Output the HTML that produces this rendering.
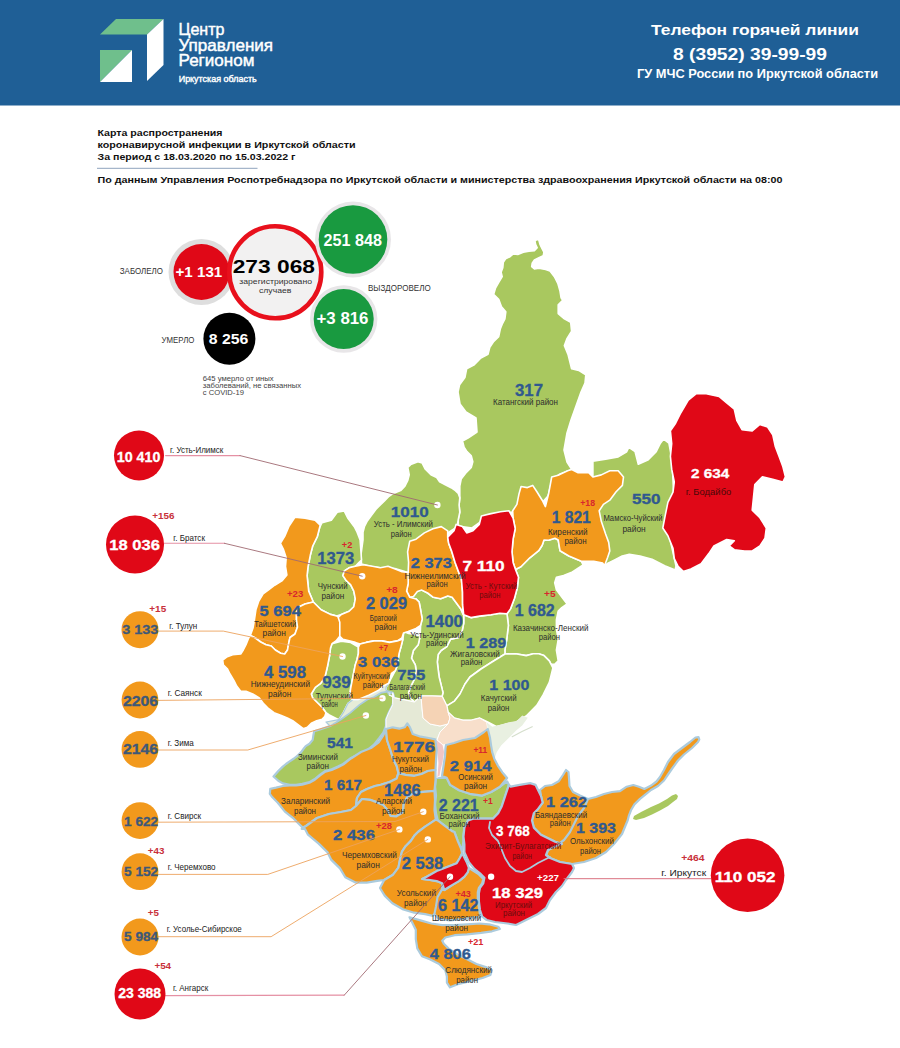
<!DOCTYPE html>
<html><head><meta charset="utf-8"><title>Карта распространения коронавирусной инфекции</title>
<style>
html,body{margin:0;padding:0;background:#fff;}
body{width:900px;height:1048px;overflow:hidden;font-family:"Liberation Sans", sans-serif;}
svg{display:block;}
svg text{font-family:"Liberation Sans", sans-serif;}
</style></head>
<body>
<svg width="900" height="1048" viewBox="0 0 900 1048">
<rect x="0" y="0" width="900" height="105.5" fill="#1f5f96"/>
<polygon points="116.0,19.0 163.5,19.0 147.0,34.5 100.0,34.5" fill="#6fbf8c" stroke="none" stroke-width="0" stroke-linejoin="round"/>
<polygon points="147.0,34.5 163.5,19.0 163.5,65.0 147.0,81.0" fill="#fff" stroke="none" stroke-width="0" stroke-linejoin="round"/>
<polygon points="100.0,50.0 132.0,50.0 100.0,82.0" fill="#6fbf8c" stroke="none" stroke-width="0" stroke-linejoin="round"/>
<polygon points="132.0,50.0 132.0,82.0 100.0,82.0" fill="#fff" stroke="none" stroke-width="0" stroke-linejoin="round"/>
<text x="178.5" y="35.3" font-size="17" fill="#fff" font-weight="normal" text-anchor="start" textLength="46" lengthAdjust="spacingAndGlyphs" stroke="#fff" stroke-width="0.45">Центр</text>
<text x="178.5" y="50.7" font-size="17" fill="#fff" font-weight="normal" text-anchor="start" textLength="94.6" lengthAdjust="spacingAndGlyphs" stroke="#fff" stroke-width="0.45">Управления</text>
<text x="178.5" y="66" font-size="17" fill="#fff" font-weight="normal" text-anchor="start" textLength="76" lengthAdjust="spacingAndGlyphs" stroke="#fff" stroke-width="0.45">Регионом</text>
<text x="178.7" y="82" font-size="9.3" fill="#fff" font-weight="normal" text-anchor="start" textLength="78" lengthAdjust="spacingAndGlyphs" stroke="#fff" stroke-width="0.4">Иркутская область</text>
<text x="651" y="34.9" font-size="15" fill="#fff" font-weight="bold" text-anchor="start" textLength="208" lengthAdjust="spacingAndGlyphs">Телефон горячей линии</text>
<text x="673" y="59.8" font-size="17" fill="#fff" font-weight="bold" text-anchor="start" textLength="154" lengthAdjust="spacingAndGlyphs">8 (3952) 39-99-99</text>
<text x="637" y="77.8" font-size="12.3" fill="#fff" font-weight="bold" text-anchor="start" textLength="241" lengthAdjust="spacingAndGlyphs">ГУ МЧС России по Иркутской области</text>
<text x="97.5" y="136.3" font-size="9.6" fill="#111" font-weight="bold" text-anchor="start" textLength="125" lengthAdjust="spacingAndGlyphs">Карта распространения</text>
<text x="97.5" y="148" font-size="9.6" fill="#111" font-weight="bold" text-anchor="start" textLength="258" lengthAdjust="spacingAndGlyphs">коронавирусной инфекции в Иркутской области</text>
<text x="97.5" y="160" font-size="9.6" fill="#111" font-weight="bold" text-anchor="start" textLength="198" lengthAdjust="spacingAndGlyphs">За период с 18.03.2020 по 15.03.2022 г</text>
<line x1="97" y1="168.3" x2="257.5" y2="168.3" stroke="#8fa3bd" stroke-width="1"/>
<text x="97.5" y="183" font-size="9.6" fill="#111" font-weight="bold" text-anchor="start" textLength="685" lengthAdjust="spacingAndGlyphs">По данным Управления Роспотребнадзора по Иркутской области и министерства здравоохранения Иркутской области на 08:00</text>
<circle cx="201.5" cy="272" r="33" fill="#dedede" stroke="none" stroke-width="0"/>
<circle cx="201.5" cy="272" r="28" fill="#e00817" stroke="none" stroke-width="0"/>
<circle cx="275.3" cy="272.3" r="46" fill="#f2f1f1" stroke="#e8101c" stroke-width="4.6"/>
<circle cx="353" cy="239.5" r="38" fill="#e8e6e8" stroke="none" stroke-width="0"/>
<circle cx="353" cy="239.5" r="34.3" fill="#199a40" stroke="none" stroke-width="0"/>
<circle cx="343.7" cy="319" r="33.7" fill="#e8e6e8" stroke="none" stroke-width="0"/>
<circle cx="343.7" cy="319" r="30" fill="#199a40" stroke="none" stroke-width="0"/>
<circle cx="229.4" cy="338.7" r="26" fill="#000" stroke="none" stroke-width="0"/>
<text x="175.5" y="276.7" font-size="14" fill="#fff" font-weight="bold" text-anchor="start" textLength="46.8" lengthAdjust="spacingAndGlyphs">+1 131</text>
<text x="232.7" y="272.5" font-size="18" fill="#000" font-weight="bold" text-anchor="start" textLength="82.3" lengthAdjust="spacingAndGlyphs">273 068</text>
<text x="239.3" y="283.8" font-size="8" fill="#333" font-weight="normal" text-anchor="start" textLength="72.7" lengthAdjust="spacingAndGlyphs">зарегистрировано</text>
<text x="259" y="292.7" font-size="8" fill="#333" font-weight="normal" text-anchor="start" textLength="32.3" lengthAdjust="spacingAndGlyphs">случаев</text>
<text x="323.6" y="246.2" font-size="16.5" fill="#fff" font-weight="bold" text-anchor="start" textLength="58.3" lengthAdjust="spacingAndGlyphs">251 848</text>
<text x="316.5" y="324.1" font-size="16.5" fill="#fff" font-weight="bold" text-anchor="start" textLength="52" lengthAdjust="spacingAndGlyphs">+3 816</text>
<text x="208.7" y="343.9" font-size="15" fill="#fff" font-weight="bold" text-anchor="start" textLength="39.6" lengthAdjust="spacingAndGlyphs">8 256</text>
<text x="119.8" y="274" font-size="8.4" fill="#333" font-weight="normal" text-anchor="start" textLength="43.2" lengthAdjust="spacingAndGlyphs">ЗАБОЛЕЛО</text>
<text x="368" y="291" font-size="8.4" fill="#333" font-weight="normal" text-anchor="start" textLength="62.7" lengthAdjust="spacingAndGlyphs">ВЫЗДОРОВЕЛО</text>
<text x="161.6" y="342.8" font-size="8.4" fill="#333" font-weight="normal" text-anchor="start" textLength="32.8" lengthAdjust="spacingAndGlyphs">УМЕРЛО</text>
<text x="202.8" y="380.7" font-size="7.3" fill="#444" font-weight="normal" text-anchor="start" textLength="70.9" lengthAdjust="spacingAndGlyphs">645 умерло от иных</text>
<text x="202.8" y="388.3" font-size="7.3" fill="#444" font-weight="normal" text-anchor="start" textLength="98.3" lengthAdjust="spacingAndGlyphs">заболеваний, не связанных</text>
<text x="202.8" y="394.9" font-size="7.3" fill="#444" font-weight="normal" text-anchor="start" textLength="41.1" lengthAdjust="spacingAndGlyphs">с COVID-19</text>
<polygon points="536.2,240.0 537.6,239.4 538.9,240.2 540.0,244.4 542.2,248.9 543.9,252.2 543.3,255.6 538.9,257.8 534.4,260.0 532.2,263.3 531.7,266.7 534.4,268.9 538.9,268.3 545.6,269.4 550.0,271.1 554.4,276.7 557.8,283.3 560.0,291.1 561.1,297.8 562.7,300.2 558.2,304.7 558.2,313.6 564.4,318.9 570.7,322.4 571.6,331.3 567.1,338.4 564.4,345.6 568.0,354.4 571.6,368.7 578.7,370.4 585.8,374.9 585.0,383.0 581.0,392.0 576.0,406.0 571.0,420.0 567.0,433.0 564.0,450.0 567.0,462.0 571.8,469.6 560.0,474.0 552.0,480.0 548.0,496.0 540.0,505.0 525.0,505.0 512.0,512.0 500.0,514.0 486.0,518.0 472.0,528.0 458.0,526.0 458.3,519.4 459.8,512.2 459.1,505.0 459.8,497.8 459.8,491.9 459.8,486.2 461.2,479.0 465.6,473.2 471.3,467.4 472.8,461.7 471.3,455.9 467.0,451.6 464.1,447.2 462.5,441.0 468.0,438.0 477.0,432.0 476.0,418.0 466.0,412.0 460.0,404.0 458.0,392.0 459.6,384.7 464.9,377.6 466.7,368.7 473.8,365.1 480.9,358.0 488.0,354.4 489.8,347.3 493.3,342.0 498.7,336.7 500.4,328.7 502.2,324.2 504.9,318.9 505.8,311.8 501.3,306.4 498.7,299.3 493.6,294.4 495.6,287.8 498.9,282.2 502.2,276.7 501.1,272.2 502.8,267.8 503.3,262.2 505.6,258.9 510.0,256.7 513.3,253.9 517.8,254.4 523.3,252.2 528.9,251.1 534.4,250.6 537.2,247.8 535.6,244.4 535.0,241.1" fill="#a9c85f" stroke="#ffffff" stroke-width="1.6" stroke-linejoin="round"/>
<polygon points="592.9,461.2 605.6,459.1 618.2,456.9 626.7,451.7 628.8,447.4 635.1,451.7 638.3,464.3 647.8,460.1 656.2,451.7 660.4,443.2 663.6,439.0 668.9,443.2 672.0,460.0 674.0,500.0 668.0,530.0 676.0,566.0 675.2,569.9 664.7,565.7 652.0,559.3 640.0,556.0 629.3,554.2 622.2,556.0 615.1,559.6 608.0,563.1 604.5,565.7 600.0,540.0 595.0,500.0 592.9,477.0" fill="#a9c85f" stroke="#ffffff" stroke-width="1.6" stroke-linejoin="round"/>
<polygon points="407.8,467.4 410.7,464.6 417.9,461.7 422.2,463.1 425.1,468.9 430.9,474.7 436.7,477.6 439.6,481.9 445.3,484.8 451.1,487.7 455.4,490.6 458.3,493.4 459.8,497.8 459.1,505.0 459.8,512.2 458.3,519.4 457.0,527.0 447.7,533.0 430.0,540.0 412.0,548.0 410.0,566.0 409.0,573.0 403.3,571.0 394.9,568.5 382.2,568.0 371.7,566.5 361.5,564.0 361.1,554.0 363.0,540.0 363.0,532.4 364.4,526.7 367.3,520.9 371.7,515.1 376.0,509.3 380.3,505.0 384.7,500.7 389.0,496.3 393.3,493.4 400.6,490.6 404.9,486.2 407.8,480.4 409.2,474.7" fill="#a9c85f" stroke="#ffffff" stroke-width="1.6" stroke-linejoin="round"/>
<polygon points="322.0,522.7 331.3,520.3 337.2,512.2 344.2,511.0 347.7,518.0 350.0,520.9 354.3,526.7 357.2,532.4 360.1,540.0 361.1,554.0 361.5,560.0 358.4,563.1 355.3,566.2 349.1,567.8 344.4,570.9 342.9,575.6 346.0,580.2 350.7,584.9 353.8,591.1 355.3,598.9 353.8,606.7 349.1,611.3 341.3,614.4 336.7,616.0 330.4,614.4 321.1,609.8 313.3,602.0 308.7,591.1 307.1,575.6 308.0,567.0 310.3,555.3 312.7,546.0 317.3,536.7 319.7,527.3" fill="#a9c85f" stroke="#ffffff" stroke-width="1.6" stroke-linejoin="round"/>
<polygon points="515.5,569.5 520.9,566.7 529.8,557.8 538.7,550.7 542.2,545.3 544.0,540.0 548.6,540.3 554.9,538.2 558.2,540.0 560.0,550.7 568.9,556.0 581.3,561.3 583.1,564.9 572.4,572.0 563.6,575.6 556.4,577.3 554.7,582.7 556.4,589.8 561.8,596.9 567.1,604.0 561.8,607.6 558.2,611.1 556.4,620.0 556.4,628.9 558.2,639.6 556.4,650.2 558.2,660.9 554.7,664.4 551.1,664.4 549.3,660.9 544.0,655.6 538.7,653.8 533.3,653.8 526.2,655.6 515.6,653.8 505.0,654.0 504.9,650.2 506.7,639.6 508.4,625.3 507.0,613.8 510.5,608.9 514.5,598.3 517.3,587.8 518.5,577.2" fill="#a9c85f" stroke="#ffffff" stroke-width="1.6" stroke-linejoin="round"/>
<polygon points="463.7,614.7 470.9,617.6 479.6,616.1 491.1,614.7 499.8,613.2 507.0,613.8 508.4,625.3 506.7,639.6 504.9,650.2 505.0,654.0 492.0,662.0 481.0,669.0 470.0,677.0 465.0,684.0 460.0,694.0 454.5,701.1 446.8,705.9 442.1,696.4 443.0,692.6 441.1,684.9 439.2,677.3 438.2,669.6 437.3,662.0 438.2,654.4 441.1,650.5 446.8,646.7 450.6,639.1 457.9,637.8 462.2,630.6 463.7,623.3" fill="#a9c85f" stroke="#ffffff" stroke-width="1.6" stroke-linejoin="round"/>
<polygon points="410.0,592.0 417.4,589.0 421.8,590.1 427.6,593.0 433.3,597.3 440.6,598.8 447.8,595.9 452.1,597.3 456.4,603.1 460.8,608.9 463.7,614.7 463.7,623.3 462.2,630.6 457.9,637.8 450.6,639.1 446.8,646.7 441.1,650.5 438.2,654.4 437.3,662.0 438.2,669.6 439.2,677.3 441.1,684.9 443.0,692.6 442.1,696.4 432.0,696.0 421.0,696.0 414.4,702.1 410.5,698.3 408.6,692.6 410.5,686.8 414.4,679.2 416.3,671.6 415.3,664.9 411.5,658.2 413.4,650.5 418.2,644.8 420.1,636.2 420.6,625.3 422.2,619.1 420.6,609.8 419.1,602.0 416.0,598.9 410.0,599.0" fill="#a9c85f" stroke="#ffffff" stroke-width="1.6" stroke-linejoin="round"/>
<polygon points="446.8,705.9 454.5,701.1 460.0,694.0 465.0,684.0 470.0,677.0 481.0,669.0 492.0,662.0 505.0,654.0 515.6,653.8 526.2,655.6 533.3,653.8 538.7,653.8 544.0,655.6 549.3,660.9 551.1,664.4 552.9,668.0 549.4,682.2 543.1,694.9 536.8,705.4 526.2,716.0 515.7,722.3 505.1,724.4 496.7,726.6 488.2,722.3 479.8,718.1 471.3,720.2 462.9,720.2 454.4,718.1 448.0,712.0" fill="#a9c85f" stroke="#ffffff" stroke-width="1.6" stroke-linejoin="round"/>
<polygon points="403.9,631.5 408.6,633.4 413.4,634.3 420.1,636.2 418.2,644.8 413.4,650.5 411.5,658.2 415.3,664.9 416.3,671.6 414.4,679.2 410.5,686.8 408.6,692.6 410.5,698.3 414.4,702.1 405.0,700.0 395.0,698.0 389.0,695.0 386.0,690.0 386.0,687.3 388.7,683.3 391.3,678.0 395.3,670.6 397.2,665.8 398.1,660.1 399.1,653.4 401.0,646.7 402.9,639.1" fill="#a9c85f" stroke="#ffffff" stroke-width="1.6" stroke-linejoin="round"/>
<polygon points="332.0,643.7 341.3,641.3 350.7,642.5 358.4,647.1 358.4,653.3 356.9,660.0 355.3,664.7 353.0,676.3 350.7,688.0 349.5,697.3 353.0,699.7 348.0,703.3 343.3,712.7 338.7,719.7 329.3,715.0 326.0,712.7 322.0,707.3 316.7,702.0 312.7,698.0 311.3,694.0 315.3,687.3 320.7,683.3 324.7,678.0 327.3,667.3 329.7,655.0 330.5,648.0" fill="#a9c85f" stroke="#ffffff" stroke-width="1.6" stroke-linejoin="round"/>
<polygon points="330.0,726.0 340.7,719.3 350.0,712.7 359.3,704.7 367.3,699.3 374.0,696.7 380.7,692.7 387.3,691.3 392.7,692.7 394.0,696.7 392.7,704.7 388.7,712.7 386.0,719.3 386.0,726.0 383.3,732.7 379.3,738.0 374.0,744.7 367.3,750.0 359.3,754.0 351.0,758.0 343.2,763.9 337.9,766.6 331.7,769.2 325.4,771.0 320.1,774.6 314.8,779.0 309.4,782.1 302.3,783.9 296.1,784.8 289.9,784.8 282.8,783.4 278.3,780.8 273.5,776.5 278.3,771.0 282.8,766.6 286.0,764.0 289.3,761.7 294.0,758.5 297.9,755.4 301.0,752.3 303.3,749.2 305.7,746.1 309.5,743.8 312.7,739.9 313.4,735.2 314.2,731.3 320.0,729.5" fill="#a9c85f" stroke="#abcbdd" stroke-width="2.2" stroke-linejoin="round"/>
<polygon points="436.0,777.8 446.7,777.8 450.2,784.9 459.1,790.2 469.8,793.8 482.2,795.6 491.1,792.0 500.0,786.7 507.1,781.3 508.9,784.9 505.3,795.6 501.8,806.2 498.2,813.3 492.9,818.7 482.2,818.7 473.3,818.7 468.0,820.4 464.4,827.6 463.5,834.7 463.3,841.8 462.2,850.0 460.0,846.0 457.8,841.1 454.4,832.0 452.0,831.1 444.9,825.8 437.8,820.4 436.0,813.3 435.1,804.4 436.0,795.6 435.1,786.7" fill="#a9c85f" stroke="#abcbdd" stroke-width="2.2" stroke-linejoin="round"/>
<polygon points="634.0,816.0 642.0,811.5 651.0,807.0 659.0,803.5 667.0,799.0 672.0,795.5 676.0,794.0 678.0,796.0 677.0,799.0 673.0,802.0 668.0,806.0 660.0,810.5 652.0,814.5 644.0,818.0 636.0,820.0 633.0,819.0" fill="#a9c85f" stroke="none" stroke-width="0" stroke-linejoin="round"/>
<polygon points="338.7,719.7 343.3,712.7 348.0,703.3 353.0,699.7 357.7,699.7 369.3,695.0 378.7,690.3 383.3,686.0 388.7,683.3 386.0,687.3 386.0,690.0 389.0,695.0 392.7,692.7 387.3,691.3 380.7,692.7 374.0,696.7 367.3,699.3 359.3,704.7 350.0,712.7 340.7,719.3 330.0,726.0 326.0,722.0" fill="#e6ecd8" stroke="#abcbdd" stroke-width="1.2" stroke-linejoin="round"/>
<polygon points="392.7,692.7 394.0,696.7 389.0,695.0 395.0,698.0 405.0,700.0 414.4,702.1 421.0,696.0 422.0,708.0 423.0,718.0 430.0,724.0 440.0,726.0 448.0,724.0 440.0,732.0 437.0,740.0 435.3,739.3 428.7,738.0 420.7,736.7 412.7,734.0 410.0,727.3 407.3,723.3 404.7,727.3 399.3,728.7 392.7,727.3 386.0,728.7 386.0,719.3 388.7,712.7 392.7,704.7" fill="#e5e9d6" stroke="#ffffff" stroke-width="1" stroke-linejoin="round"/>
<polygon points="421.0,696.0 432.0,696.0 442.1,696.4 446.8,705.9 448.0,712.0 450.0,718.0 448.0,724.0 440.0,726.0 430.0,724.0 423.0,718.0 422.0,708.0" fill="#f5d3b5" stroke="#ffffff" stroke-width="1" stroke-linejoin="round"/>
<polygon points="448.0,712.0 454.4,718.1 462.9,720.2 471.3,720.2 479.8,718.1 486.7,722.2 487.8,729.0 484.0,732.0 475.0,738.0 463.0,740.0 454.0,743.0 443.0,745.0 437.0,740.0 440.0,732.0 448.0,724.0 450.0,718.0" fill="#f8dfcb" stroke="#ffffff" stroke-width="1" stroke-linejoin="round"/>
<polygon points="435.3,739.3 437.0,740.0 443.0,745.0 444.5,752.0 443.0,762.0 441.0,770.0 440.0,776.0 436.0,777.8 437.0,776.0 438.0,763.3 436.7,750.0" fill="#f1c6c6" stroke="#ffffff" stroke-width="0.8" stroke-linejoin="round"/>
<polygon points="486.7,722.2 492.2,726.7 501.1,724.4 508.9,722.2 516.7,721.1 522.2,715.6 527.8,717.8 522.2,725.6 516.7,730.0 512.2,734.4 506.7,740.0 501.1,745.6 496.7,752.2 494.4,758.9 492.2,752.2 491.1,745.6 490.0,737.8 487.8,729.0" fill="#e9f0e1" stroke="none" stroke-width="0" stroke-linejoin="round"/>
<polygon points="519.0,493.9 521.1,486.5 527.4,487.6 532.7,485.4 536.9,491.8 542.2,500.2 545.4,506.6 548.6,493.9 551.7,477.0 559.1,474.9 567.6,470.7 571.8,469.6 578.1,472.8 588.7,472.8 592.9,477.0 601.3,474.9 609.8,470.7 618.2,470.7 623.5,477.0 622.4,485.4 616.1,491.8 609.8,500.2 603.4,504.4 599.2,510.8 601.3,521.3 605.6,534.0 608.7,542.4 609.8,550.9 607.7,557.2 604.5,565.7 602.7,563.1 593.8,561.3 581.3,561.3 568.9,556.0 560.0,550.7 558.2,540.0 554.9,538.2 548.6,540.3 544.0,540.0 542.2,545.3 538.7,550.7 529.8,557.8 520.9,566.7 515.5,569.5 513.1,562.4 512.0,551.9 513.1,539.2 515.2,528.7 513.1,518.1 512.7,510.8 516.9,504.4" fill="#f2991c" stroke="#ffffff" stroke-width="1.6" stroke-linejoin="round"/>
<polygon points="409.7,541.3 416.0,539.2 424.4,532.9 432.9,528.7 441.3,526.6 447.7,530.8 447.7,537.1 448.7,543.4 451.9,551.9 455.1,562.4 458.2,570.9 461.4,579.3 462.5,592.0 462.6,604.7 463.2,614.7 460.8,608.9 456.4,603.1 452.1,597.3 447.8,595.9 440.6,598.8 433.3,597.3 427.6,593.0 421.8,590.1 417.4,591.6 413.5,596.5 409.8,597.3 406.6,591.1 408.2,583.3 408.2,572.4 408.6,562.4 407.6,551.9" fill="#f2991c" stroke="#ffffff" stroke-width="1.6" stroke-linejoin="round"/>
<polygon points="294.9,517.3 305.0,518.1 315.1,520.2 320.2,525.3 317.3,536.7 312.7,546.0 310.3,555.3 308.0,567.0 307.1,575.6 308.7,591.1 313.3,602.0 305.0,604.0 299.3,606.7 296.5,612.0 296.5,620.0 297.5,627.0 295.0,634.0 290.0,637.5 288.7,643.3 287.5,650.0 284.7,654.0 280.7,653.3 275.3,650.0 271.3,646.0 266.0,644.7 260.7,642.0 255.3,638.0 250.3,635.5 253.0,628.0 254.4,620.0 255.9,609.8 258.8,601.1 263.1,593.9 268.9,589.6 274.7,585.2 281.9,580.9 286.9,575.1 285.5,566.4 286.2,557.8 283.3,549.1 280.4,543.3 284.8,536.1 289.1,526.0" fill="#f2991c" stroke="#ffffff" stroke-width="1.6" stroke-linejoin="round"/>
<polygon points="313.3,602.0 321.1,609.8 330.4,614.4 336.7,616.0 339.8,617.5 339.8,628.4 339.8,636.2 336.0,641.0 332.0,643.7 330.5,648.0 329.7,655.0 327.3,667.3 324.7,678.0 320.7,683.3 315.3,687.3 311.3,694.0 312.7,698.0 316.7,702.0 322.0,707.3 326.0,712.7 324.7,716.7 322.0,719.3 316.7,720.7 311.3,723.3 307.3,727.3 303.3,728.7 298.0,724.7 292.7,720.7 287.3,718.0 280.7,715.3 274.0,712.7 268.7,708.7 263.3,703.3 259.3,698.0 252.7,694.0 246.0,691.3 240.7,691.3 236.7,686.0 234.0,680.7 230.0,674.0 227.3,668.7 223.3,664.7 222.7,660.0 227.3,656.7 232.7,654.7 240.7,654.0 243.3,650.0 246.0,644.7 248.7,638.0 250.3,635.5 255.3,638.0 260.7,642.0 266.0,644.7 271.3,646.0 275.3,650.0 280.7,653.3 284.7,654.0 287.5,650.0 288.7,643.3 290.0,637.5 295.0,634.0 297.5,627.0 296.5,620.0 296.5,612.0 299.3,606.7 305.0,604.0" fill="#f2991c" stroke="#ffffff" stroke-width="1.6" stroke-linejoin="round"/>
<polygon points="349.1,567.8 355.3,566.2 363.1,564.7 372.4,566.2 380.2,567.8 388.0,566.2 395.8,569.3 402.0,571.7 408.2,572.4 408.2,583.3 406.6,591.1 409.8,597.3 416.0,598.9 419.1,602.0 420.6,609.8 422.2,619.1 420.6,625.3 416.0,628.4 408.2,631.5 403.5,633.1 402.0,637.8 397.3,640.9 389.5,642.4 381.8,640.9 374.0,640.9 366.2,642.4 360.0,644.0 355.3,642.4 349.1,640.9 342.9,639.3 339.8,636.2 339.8,628.4 339.8,622.2 338.2,617.5 341.3,614.4 349.1,611.3 353.8,606.7 355.3,598.9 353.8,591.1 350.7,584.9 346.0,580.2 342.9,575.6 344.4,570.9" fill="#f2991c" stroke="#ffffff" stroke-width="1.6" stroke-linejoin="round"/>
<polygon points="360.0,644.0 366.2,642.4 374.0,640.9 381.8,640.9 389.5,642.4 397.3,640.9 402.9,639.1 401.0,646.7 399.1,653.4 398.1,660.1 397.2,665.8 395.3,670.6 391.5,673.5 388.7,683.3 383.3,686.0 378.7,690.3 369.3,695.0 357.7,699.7 353.0,699.7 349.5,697.3 350.7,688.0 353.0,676.3 355.3,664.7 356.9,660.0 358.4,653.3 358.4,647.1" fill="#f2991c" stroke="#ffffff" stroke-width="1.6" stroke-linejoin="round"/>
<polygon points="696.0,393.8 706.2,393.8 719.0,396.4 726.7,402.8 734.3,409.2 736.9,420.7 742.0,429.6 752.2,430.9 759.9,424.5 767.6,427.1 772.7,434.7 775.2,446.2 779.1,456.4 782.9,466.7 785.4,476.9 782.9,482.0 772.7,479.4 762.4,476.9 754.8,484.6 753.5,497.3 752.2,510.1 759.9,517.8 766.3,528.0 765.0,538.2 759.9,545.9 752.2,551.0 744.6,551.0 734.3,549.7 729.2,545.9 734.3,540.8 726.7,539.5 713.9,545.9 708.8,553.6 701.1,563.8 690.9,568.9 683.2,571.4 678.1,566.3 674.3,558.7 673.0,548.4 667.9,535.7 662.8,528.0 665.3,515.2 667.9,502.4 673.0,492.2 674.3,482.0 671.7,469.2 670.4,456.4 671.7,443.7 670.4,430.9 675.6,423.2 680.7,413.0 688.3,400.2" fill="#e00817" stroke="#ffffff" stroke-width="1.6" stroke-linejoin="round"/>
<polygon points="447.7,537.1 454.0,530.8 456.1,524.4 462.4,526.6 466.7,532.9 473.0,530.8 479.3,524.4 481.4,516.0 489.9,513.9 500.4,511.8 508.9,510.7 513.1,518.1 515.2,528.7 513.1,539.2 512.0,551.9 513.1,562.4 515.5,569.5 518.5,577.2 517.3,587.8 514.5,598.3 510.5,608.9 507.0,613.8 499.8,613.2 491.1,614.7 479.6,616.1 470.9,617.6 463.7,614.7 462.6,604.7 462.5,592.0 461.4,579.3 458.2,570.9 455.1,562.4 451.9,551.9 448.7,543.4" fill="#e00817" stroke="#ffffff" stroke-width="1.6" stroke-linejoin="round"/>
<polygon points="270.3,788.8 276.0,787.6 282.8,786.0 289.9,785.5 296.1,785.5 302.3,784.6 309.4,782.8 314.8,779.7 320.1,775.3 325.4,771.7 331.7,769.9 337.9,767.3 343.2,764.6 351.0,758.5 361.0,752.0 371.0,748.0 379.0,742.0 383.0,736.0 386.0,729.0 387.0,740.0 390.4,750.0 393.1,758.9 396.7,766.0 398.4,773.1 396.7,778.4 389.6,782.0 380.7,784.7 375.0,786.0 367.0,789.0 361.0,792.0 357.0,798.0 356.0,806.0 351.0,810.0 341.0,812.0 329.0,814.0 317.0,818.0 306.0,826.0 302.7,827.6 293.8,818.7 284.9,811.6 277.8,802.7 272.4,797.3 269.8,793.8" fill="#f2991c" stroke="#abcbdd" stroke-width="2.2" stroke-linejoin="round"/>
<polygon points="386.0,729.0 392.7,727.3 399.3,728.7 404.7,727.3 407.3,723.3 410.0,727.3 412.7,734.0 420.7,736.7 428.7,738.0 435.3,739.3 436.7,750.0 436.0,760.0 435.5,770.0 427.8,771.0 421.6,774.0 414.4,775.8 405.6,774.9 398.4,773.1 396.7,766.0 393.1,758.9 390.4,750.0 387.0,740.0" fill="#f2991c" stroke="#abcbdd" stroke-width="2.2" stroke-linejoin="round"/>
<polygon points="357.0,798.0 361.0,792.0 367.0,789.0 375.0,786.0 380.7,784.7 389.6,782.0 396.7,778.4 398.4,773.1 405.6,774.9 414.4,775.8 421.6,774.0 427.8,771.0 435.5,770.0 435.5,780.0 434.5,790.9 423.3,791.8 414.4,792.7 407.3,797.1 403.8,803.3 402.9,812.2 396.0,816.5 390.4,815.8 387.8,810.4 383.3,805.1 377.1,802.4 370.0,799.8 362.0,799.0 356.0,806.0" fill="#f2991c" stroke="#abcbdd" stroke-width="2.2" stroke-linejoin="round"/>
<polygon points="301.6,828.9 306.0,826.0 317.0,818.0 329.0,814.0 341.0,812.0 351.0,810.0 356.0,806.0 362.0,799.0 370.0,799.8 377.1,802.4 383.3,805.1 387.8,810.4 390.4,815.8 396.0,816.5 402.9,812.2 403.8,803.3 407.3,797.1 414.4,792.7 423.3,791.8 434.5,790.9 435.0,800.0 434.5,810.0 435.8,819.6 425.1,826.7 418.0,832.0 414.4,835.6 410.9,840.9 405.6,846.2 402.0,851.6 400.2,858.7 398.4,867.6 393.1,874.7 384.2,880.0 377.3,880.9 366.7,882.7 356.0,882.7 345.3,877.3 340.0,868.4 331.1,859.6 327.6,852.4 318.7,843.6 308.0,834.7 305.0,829.0" fill="#f2991c" stroke="#abcbdd" stroke-width="2.2" stroke-linejoin="round"/>
<polygon points="435.8,819.6 437.8,820.4 444.9,825.8 452.0,831.1 454.4,832.0 457.8,841.1 461.1,848.9 462.2,853.3 460.0,857.8 456.7,863.3 447.8,866.7 436.7,871.1 426.7,876.7 422.2,878.9 430.0,880.0 436.7,881.1 442.2,883.3 442.2,889.3 439.1,895.6 437.5,903.3 437.5,911.1 432.9,915.8 425.1,914.2 414.2,912.7 403.3,909.5 392.4,903.3 384.7,895.6 380.0,888.0 384.2,880.0 393.1,874.7 398.4,867.6 400.2,858.7 402.0,851.6 405.6,846.2 410.9,840.9 414.4,835.6 418.0,832.0 425.1,826.7" fill="#f2991c" stroke="#abcbdd" stroke-width="2.2" stroke-linejoin="round"/>
<polygon points="446.0,745.0 454.0,743.0 463.0,740.0 475.0,738.0 484.0,732.0 487.8,729.0 490.0,737.8 491.1,745.6 492.2,752.2 494.4,758.9 497.8,765.6 502.2,772.2 507.1,778.0 500.0,786.7 491.1,792.0 482.2,795.6 469.8,793.8 459.1,790.2 450.2,784.9 446.7,777.8 442.0,776.0 443.5,766.0 445.0,756.0 445.5,748.0" fill="#f2991c" stroke="#abcbdd" stroke-width="2.2" stroke-linejoin="round"/>
<polygon points="540.0,790.0 545.0,786.0 552.0,785.0 558.7,781.3 563.0,775.0 566.0,770.0 568.5,772.0 569.0,778.0 569.5,786.0 573.0,792.0 580.0,795.6 588.0,799.0 586.0,806.0 581.0,814.0 577.0,822.0 573.0,830.0 568.0,838.0 562.0,844.0 555.1,841.8 548.0,838.2 540.9,834.7 533.8,827.6 532.0,820.4 533.8,813.3 537.3,809.8 542.7,802.7 541.0,796.0" fill="#f2991c" stroke="#abcbdd" stroke-width="2.2" stroke-linejoin="round"/>
<polygon points="588.0,799.0 596.0,797.0 604.0,794.0 612.0,792.0 620.0,791.1 626.7,786.7 633.3,785.0 638.9,786.7 644.4,788.9 651.1,785.6 656.5,781.5 660.0,777.0 664.0,770.0 668.0,762.0 674.0,754.0 682.0,748.0 690.0,742.0 695.5,737.5 698.5,737.2 699.3,739.5 698.0,742.0 692.0,748.0 684.0,754.5 678.0,760.5 672.5,768.0 668.0,774.5 664.0,780.5 658.0,786.0 651.0,790.0 645.6,794.4 640.0,798.9 634.4,804.4 631.1,810.0 628.9,815.6 627.8,820.0 622.0,834.0 614.0,844.0 606.0,852.0 596.0,858.0 584.0,862.0 572.0,864.0 560.0,862.0 550.0,858.0 546.0,855.0 548.0,850.0 556.0,846.0 564.0,840.0 570.0,832.0 574.0,824.0 578.0,816.0 584.0,808.0" fill="#f2991c" stroke="#abcbdd" stroke-width="2.2" stroke-linejoin="round"/>
<polygon points="442.2,889.3 444.4,890.0 447.8,887.8 453.3,884.4 458.9,881.1 464.4,876.7 467.8,872.2 468.9,867.8 472.2,870.0 478.9,874.4 483.3,878.9 482.2,883.3 478.9,887.8 477.8,892.2 477.8,898.9 478.9,907.8 480.0,914.4 479.5,917.3 473.3,917.3 464.0,918.9 450.0,920.4 439.1,918.9 434.4,914.2 436.0,906.4 437.5,897.1" fill="#f2991c" stroke="#abcbdd" stroke-width="2.2" stroke-linejoin="round"/>
<polygon points="409.5,917.3 420.4,920.4 431.3,923.5 442.2,925.1 454.7,925.1 467.1,924.3 479.5,923.5 488.9,924.3 498.2,926.7 499.8,929.0 492.0,931.3 481.1,932.9 467.1,934.4 454.7,935.2 445.3,937.5 442.2,940.7 443.8,943.8 448.4,948.4 457.8,954.7 467.1,959.3 476.4,964.0 485.8,967.1 492.0,970.2 490.4,974.9 482.6,978.0 470.2,981.1 457.8,984.2 450.0,987.3 446.9,982.6 446.9,976.4 445.3,970.2 439.1,964.0 429.8,959.3 422.0,956.2 417.3,948.4 415.8,939.1 415.8,929.8 412.7,923.5" fill="#f2991c" stroke="#abcbdd" stroke-width="2.2" stroke-linejoin="round"/>
<polygon points="510.7,786.7 519.6,784.9 530.2,783.1 535.6,784.9 541.0,796.0 542.7,802.7 537.3,809.8 533.8,813.3 532.0,820.4 533.8,827.6 540.9,834.7 548.0,838.2 555.1,841.8 562.0,844.0 556.0,846.0 548.0,850.0 546.0,855.0 550.0,858.0 560.0,862.0 572.0,864.0 574.0,868.0 572.0,872.0 566.0,880.0 562.0,886.0 556.0,892.0 550.0,900.0 546.0,908.0 538.0,914.0 530.0,918.0 522.0,922.0 516.0,925.0 507.5,923.5 495.1,922.0 486.7,920.0 482.2,916.7 480.0,910.0 478.9,901.1 478.9,893.3 480.0,887.8 483.3,883.3 484.4,877.8 480.0,873.3 474.4,868.9 468.9,862.2 464.4,852.2 464.4,844.4 463.5,836.7 464.4,827.6 468.0,820.4 473.3,818.7 482.2,818.7 492.9,818.7 498.2,813.3 501.8,806.2 505.3,795.6 508.9,784.9" fill="#e00817" stroke="#abcbdd" stroke-width="2.2" stroke-linejoin="round"/>
<polygon points="422.2,878.9 426.7,876.7 436.7,871.1 447.8,866.7 456.7,863.3 460.0,857.8 462.2,853.3 466.7,862.2 468.9,867.8 467.8,872.2 464.4,876.7 458.9,881.1 453.3,884.4 447.8,887.8 444.4,890.0 442.2,883.3 436.7,881.1 430.0,880.0" fill="#e00817" stroke="#abcbdd" stroke-width="2.2" stroke-linejoin="round"/>
<polyline points="490.0,822.0 489.0,828.0 492.0,835.0 498.0,841.0 501.0,848.0 505.0,858.0 510.0,866.0 516.0,871.0 522.0,872.0 530.0,868.0 538.0,863.0 546.0,859.0 550.0,857.0" fill="none" stroke="#abcbdd" stroke-width="1.8" stroke-linejoin="round" stroke-linecap="round"/>
<polyline points="512.2,736.7 522.0,731.5 532.2,726.7" fill="none" stroke="#d5dfcc" stroke-width="1.2" stroke-linejoin="round" stroke-linecap="round"/>
<circle cx="437.4" cy="505" r="3.2" fill="#ffffff" stroke="none" stroke-width="0"/>
<circle cx="362.2" cy="576.2" r="3.2" fill="#ffffff" stroke="none" stroke-width="0"/>
<circle cx="342.5" cy="656.5" r="3.2" fill="#ffffff" stroke="none" stroke-width="0"/>
<circle cx="382.5" cy="698.2" r="3.2" fill="#ffffff" stroke="none" stroke-width="0"/>
<circle cx="365.9" cy="715.5" r="3.2" fill="#ffffff" stroke="none" stroke-width="0"/>
<circle cx="423.3" cy="811.7" r="3.2" fill="#ffffff" stroke="none" stroke-width="0"/>
<circle cx="399.4" cy="829.4" r="3.2" fill="#ffffff" stroke="none" stroke-width="0"/>
<circle cx="427.8" cy="839.4" r="3.2" fill="#ffffff" stroke="none" stroke-width="0"/>
<circle cx="450" cy="876.7" r="3.2" fill="#ffffff" stroke="none" stroke-width="0"/>
<circle cx="491.1" cy="876.7" r="3.2" fill="#ffffff" stroke="none" stroke-width="0"/>
<text x="515" y="396.0" font-size="16.9" fill="#30598f" font-weight="bold" text-anchor="start" textLength="28" lengthAdjust="spacingAndGlyphs" stroke="#30598f" stroke-width="0.3">317</text>
<text x="493" y="405" font-size="8.2" fill="#2e2e2e" font-weight="normal" text-anchor="start" textLength="65" lengthAdjust="spacingAndGlyphs">Катангский район</text>
<text x="690.9" y="478.0" font-size="12.8" fill="#fff" font-weight="bold" text-anchor="start" textLength="38.3" lengthAdjust="spacingAndGlyphs" stroke="#fff" stroke-width="0.3">2 634</text>
<text x="685.8" y="495" font-size="9" fill="#4a0808" font-weight="normal" text-anchor="start" textLength="45.5" lengthAdjust="spacingAndGlyphs">г. Бодайбо</text>
<text x="631.9" y="504.4" font-size="14.7" fill="#30598f" font-weight="bold" text-anchor="start" textLength="28.5" lengthAdjust="spacingAndGlyphs" stroke="#30598f" stroke-width="0.3">550</text>
<text x="603.4" y="520.9" font-size="8.2" fill="#2e2e2e" font-weight="normal" text-anchor="start" textLength="59.1" lengthAdjust="spacingAndGlyphs">Мамско-Чуйский</text>
<text x="622.4" y="531.5" font-size="8.2" fill="#2e2e2e" font-weight="normal" text-anchor="start" textLength="23.3" lengthAdjust="spacingAndGlyphs">район</text>
<text x="580.2" y="505.5" font-size="9.5" fill="#d8262e" font-weight="bold" text-anchor="start" textLength="14.8" lengthAdjust="spacingAndGlyphs">+18</text>
<text x="551.7" y="523.0" font-size="16.4" fill="#30598f" font-weight="bold" text-anchor="start" textLength="39.1" lengthAdjust="spacingAndGlyphs" stroke="#30598f" stroke-width="0.3">1 821</text>
<text x="548.1" y="535" font-size="8.2" fill="#2e2e2e" font-weight="normal" text-anchor="start" textLength="39.5" lengthAdjust="spacingAndGlyphs">Киренский</text>
<text x="564.4" y="543.5" font-size="8.2" fill="#2e2e2e" font-weight="normal" text-anchor="start" textLength="22.2" lengthAdjust="spacingAndGlyphs">район</text>
<text x="462.4" y="570.9" font-size="14.7" fill="#fff" font-weight="bold" text-anchor="start" textLength="42.3" lengthAdjust="spacingAndGlyphs" stroke="#fff" stroke-width="0.3">7 110</text>
<text x="465.6" y="588.8" font-size="8.2" fill="#6a0d0d" font-weight="normal" text-anchor="start" textLength="51.7" lengthAdjust="spacingAndGlyphs">Усть - Кутский</text>
<text x="479.3" y="598.3" font-size="8.2" fill="#6a0d0d" font-weight="normal" text-anchor="start" textLength="21.1" lengthAdjust="spacingAndGlyphs">район</text>
<text x="410.7" y="567.7" font-size="15.3" fill="#30598f" font-weight="bold" text-anchor="start" textLength="41.2" lengthAdjust="spacingAndGlyphs" stroke="#30598f" stroke-width="0.3">2 373</text>
<text x="404.4" y="579.3" font-size="8.2" fill="#2e2e2e" font-weight="normal" text-anchor="start" textLength="61.2" lengthAdjust="spacingAndGlyphs">Нижнеилимский</text>
<text x="426.6" y="586.7" font-size="8.2" fill="#2e2e2e" font-weight="normal" text-anchor="start" textLength="21.1" lengthAdjust="spacingAndGlyphs">район</text>
<text x="390.7" y="517.0" font-size="15.3" fill="#30598f" font-weight="bold" text-anchor="start" textLength="38.0" lengthAdjust="spacingAndGlyphs" stroke="#30598f" stroke-width="0.3">1010</text>
<text x="373.8" y="527" font-size="8.2" fill="#2e2e2e" font-weight="normal" text-anchor="start" textLength="59.1" lengthAdjust="spacingAndGlyphs">Усть - Илимский</text>
<text x="390.7" y="536.7" font-size="8.2" fill="#2e2e2e" font-weight="normal" text-anchor="start" textLength="21.1" lengthAdjust="spacingAndGlyphs">район</text>
<text x="341.8" y="548.3" font-size="9.5" fill="#d8262e" font-weight="bold" text-anchor="start" textLength="10.5" lengthAdjust="spacingAndGlyphs">+2</text>
<text x="317.3" y="564.2" font-size="16.3" fill="#30598f" font-weight="bold" text-anchor="start" textLength="36.9" lengthAdjust="spacingAndGlyphs" stroke="#30598f" stroke-width="0.3">1373</text>
<text x="317.8" y="589.2" font-size="8.2" fill="#2e2e2e" font-weight="normal" text-anchor="start" textLength="29.9" lengthAdjust="spacingAndGlyphs">Чунский</text>
<text x="321.5" y="598.5" font-size="8.2" fill="#2e2e2e" font-weight="normal" text-anchor="start" textLength="22.7" lengthAdjust="spacingAndGlyphs">район</text>
<text x="386.2" y="592.7" font-size="9.5" fill="#d8262e" font-weight="bold" text-anchor="start" textLength="11.6" lengthAdjust="spacingAndGlyphs">+8</text>
<text x="365.9" y="609.0" font-size="16.3" fill="#30598f" font-weight="bold" text-anchor="start" textLength="41.2" lengthAdjust="spacingAndGlyphs" stroke="#30598f" stroke-width="0.3">2 029</text>
<text x="369.8" y="620.7" font-size="8.2" fill="#2e2e2e" font-weight="normal" text-anchor="start" textLength="26.9" lengthAdjust="spacingAndGlyphs">Братский</text>
<text x="374.5" y="630" font-size="8.2" fill="#2e2e2e" font-weight="normal" text-anchor="start" textLength="22.2" lengthAdjust="spacingAndGlyphs">район</text>
<text x="287" y="597.3" font-size="9.5" fill="#d8262e" font-weight="bold" text-anchor="start" textLength="16.3" lengthAdjust="spacingAndGlyphs">+23</text>
<text x="259.5" y="616.0" font-size="15.3" fill="#30598f" font-weight="bold" text-anchor="start" textLength="41.5" lengthAdjust="spacingAndGlyphs" stroke="#30598f" stroke-width="0.3">5 694</text>
<text x="254.3" y="626.5" font-size="8.2" fill="#2e2e2e" font-weight="normal" text-anchor="start" textLength="42.0" lengthAdjust="spacingAndGlyphs">Тайшетский</text>
<text x="262.5" y="635.8" font-size="8.2" fill="#2e2e2e" font-weight="normal" text-anchor="start" textLength="23.3" lengthAdjust="spacingAndGlyphs">район</text>
<text x="264" y="677.7" font-size="16.0" fill="#30598f" font-weight="bold" text-anchor="start" textLength="42" lengthAdjust="spacingAndGlyphs" stroke="#30598f" stroke-width="0.3">4 598</text>
<text x="250.7" y="687.3" font-size="8.2" fill="#2e2e2e" font-weight="normal" text-anchor="start" textLength="59.3" lengthAdjust="spacingAndGlyphs">Нижнеудинский</text>
<text x="268" y="697.3" font-size="8.2" fill="#2e2e2e" font-weight="normal" text-anchor="start" textLength="23.3" lengthAdjust="spacingAndGlyphs">район</text>
<text x="322.2" y="687.5" font-size="15.6" fill="#30598f" font-weight="bold" text-anchor="start" textLength="28.5" lengthAdjust="spacingAndGlyphs" stroke="#30598f" stroke-width="0.3">939</text>
<text x="315.7" y="698.5" font-size="8.2" fill="#2e2e2e" font-weight="normal" text-anchor="start" textLength="37.3" lengthAdjust="spacingAndGlyphs">Тулунский</text>
<text x="321.5" y="706.7" font-size="8.2" fill="#2e2e2e" font-weight="normal" text-anchor="start" textLength="16.3" lengthAdjust="spacingAndGlyphs">район</text>
<text x="378.7" y="651.1" font-size="9.5" fill="#d8262e" font-weight="bold" text-anchor="start" textLength="9.3" lengthAdjust="spacingAndGlyphs">+7</text>
<text x="358.1" y="667.0" font-size="15.3" fill="#30598f" font-weight="bold" text-anchor="start" textLength="41.6" lengthAdjust="spacingAndGlyphs" stroke="#30598f" stroke-width="0.3">3 036</text>
<text x="353.5" y="678.7" font-size="8.2" fill="#2e2e2e" font-weight="normal" text-anchor="start" textLength="36.4" lengthAdjust="spacingAndGlyphs">Куйтунский</text>
<text x="362.8" y="688" font-size="8.2" fill="#2e2e2e" font-weight="normal" text-anchor="start" textLength="20.5" lengthAdjust="spacingAndGlyphs">район</text>
<text x="397.3" y="679.8" font-size="15.3" fill="#30598f" font-weight="bold" text-anchor="start" textLength="28.0" lengthAdjust="spacingAndGlyphs" stroke="#30598f" stroke-width="0.3">755</text>
<text x="389.2" y="689.9" font-size="8.2" fill="#2e2e2e" font-weight="normal" text-anchor="start" textLength="36.1" lengthAdjust="spacingAndGlyphs">Балаганский</text>
<text x="399.7" y="699.2" font-size="8.2" fill="#2e2e2e" font-weight="normal" text-anchor="start" textLength="22.1" lengthAdjust="spacingAndGlyphs">район</text>
<text x="425.4" y="627.0" font-size="15.8" fill="#30598f" font-weight="bold" text-anchor="start" textLength="37.5" lengthAdjust="spacingAndGlyphs" stroke="#30598f" stroke-width="0.3">1400</text>
<text x="410.2" y="637.8" font-size="8.2" fill="#2e2e2e" font-weight="normal" text-anchor="start" textLength="53.5" lengthAdjust="spacingAndGlyphs">Усть-Удинский</text>
<text x="426.1" y="645.7" font-size="8.2" fill="#2e2e2e" font-weight="normal" text-anchor="start" textLength="21.0" lengthAdjust="spacingAndGlyphs">район</text>
<text x="465.8" y="647.9" font-size="14.7" fill="#30598f" font-weight="bold" text-anchor="start" textLength="40.5" lengthAdjust="spacingAndGlyphs" stroke="#30598f" stroke-width="0.3">1 289</text>
<text x="450" y="657.3" font-size="8.2" fill="#2e2e2e" font-weight="normal" text-anchor="start" textLength="49.8" lengthAdjust="spacingAndGlyphs">Жигаловский</text>
<text x="460.8" y="665.2" font-size="8.2" fill="#2e2e2e" font-weight="normal" text-anchor="start" textLength="21.6" lengthAdjust="spacingAndGlyphs">район</text>
<text x="544" y="596.9" font-size="9.5" fill="#d8262e" font-weight="bold" text-anchor="start" textLength="11.6" lengthAdjust="spacingAndGlyphs">+5</text>
<text x="514.7" y="615.6" font-size="15.6" fill="#30598f" font-weight="bold" text-anchor="start" textLength="40.0" lengthAdjust="spacingAndGlyphs" stroke="#30598f" stroke-width="0.3">1 682</text>
<text x="512.9" y="631" font-size="8.2" fill="#2e2e2e" font-weight="normal" text-anchor="start" textLength="75.5" lengthAdjust="spacingAndGlyphs">Казачинско-Ленский</text>
<text x="538.7" y="640.4" font-size="8.2" fill="#2e2e2e" font-weight="normal" text-anchor="start" textLength="21.3" lengthAdjust="spacingAndGlyphs">район</text>
<text x="489.3" y="689.6" font-size="15.4" fill="#30598f" font-weight="bold" text-anchor="start" textLength="40.1" lengthAdjust="spacingAndGlyphs" stroke="#30598f" stroke-width="0.3">1 100</text>
<text x="480.8" y="701.2" font-size="8.2" fill="#2e2e2e" font-weight="normal" text-anchor="start" textLength="35.9" lengthAdjust="spacingAndGlyphs">Качугский</text>
<text x="487.8" y="710.7" font-size="8.2" fill="#2e2e2e" font-weight="normal" text-anchor="start" textLength="21.5" lengthAdjust="spacingAndGlyphs">район</text>
<text x="327" y="748.0" font-size="15.1" fill="#30598f" font-weight="bold" text-anchor="start" textLength="26" lengthAdjust="spacingAndGlyphs" stroke="#30598f" stroke-width="0.3">541</text>
<text x="298" y="759.6" font-size="8.2" fill="#2e2e2e" font-weight="normal" text-anchor="start" textLength="40" lengthAdjust="spacingAndGlyphs">Зиминский</text>
<text x="306.6" y="769" font-size="8.2" fill="#2e2e2e" font-weight="normal" text-anchor="start" textLength="22.4" lengthAdjust="spacingAndGlyphs">район</text>
<text x="324" y="789.6" font-size="15.4" fill="#30598f" font-weight="bold" text-anchor="start" textLength="38" lengthAdjust="spacingAndGlyphs" stroke="#30598f" stroke-width="0.3">1 617</text>
<text x="281" y="803.6" font-size="8.2" fill="#2e2e2e" font-weight="normal" text-anchor="start" textLength="49" lengthAdjust="spacingAndGlyphs">Заларинский</text>
<text x="294" y="814" font-size="8.2" fill="#2e2e2e" font-weight="normal" text-anchor="start" textLength="22" lengthAdjust="spacingAndGlyphs">район</text>
<text x="393" y="752.0" font-size="14.5" fill="#30598f" font-weight="bold" text-anchor="start" textLength="42" lengthAdjust="spacingAndGlyphs" stroke="#30598f" stroke-width="0.3">1776</text>
<text x="392" y="762.4" font-size="8.2" fill="#2e2e2e" font-weight="normal" text-anchor="start" textLength="37" lengthAdjust="spacingAndGlyphs">Нукутский</text>
<text x="399.4" y="772" font-size="8.2" fill="#2e2e2e" font-weight="normal" text-anchor="start" textLength="22.6" lengthAdjust="spacingAndGlyphs">район</text>
<text x="384" y="796.0" font-size="16.0" fill="#30598f" font-weight="bold" text-anchor="start" textLength="36.6" lengthAdjust="spacingAndGlyphs" stroke="#30598f" stroke-width="0.3">1486</text>
<text x="376" y="804" font-size="8.2" fill="#2e2e2e" font-weight="normal" text-anchor="start" textLength="36" lengthAdjust="spacingAndGlyphs">Аларский</text>
<text x="382" y="814" font-size="8.2" fill="#2e2e2e" font-weight="normal" text-anchor="start" textLength="23" lengthAdjust="spacingAndGlyphs">район</text>
<text x="376" y="829" font-size="9.5" fill="#d8262e" font-weight="bold" text-anchor="start" textLength="16" lengthAdjust="spacingAndGlyphs">+28</text>
<text x="333" y="839.6" font-size="15.4" fill="#30598f" font-weight="bold" text-anchor="start" textLength="42" lengthAdjust="spacingAndGlyphs" stroke="#30598f" stroke-width="0.3">2 436</text>
<text x="341.9" y="857.7" font-size="8.2" fill="#2e2e2e" font-weight="normal" text-anchor="start" textLength="55.0" lengthAdjust="spacingAndGlyphs">Черемховский</text>
<text x="356.6" y="868" font-size="8.2" fill="#2e2e2e" font-weight="normal" text-anchor="start" textLength="23.2" lengthAdjust="spacingAndGlyphs">район</text>
<text x="401.8" y="869.2" font-size="16.0" fill="#30598f" font-weight="bold" text-anchor="start" textLength="41.5" lengthAdjust="spacingAndGlyphs" stroke="#30598f" stroke-width="0.3">2 538</text>
<text x="396.8" y="896.3" font-size="8.2" fill="#2e2e2e" font-weight="normal" text-anchor="start" textLength="39.2" lengthAdjust="spacingAndGlyphs">Усольский</text>
<text x="404.1" y="905.7" font-size="8.2" fill="#2e2e2e" font-weight="normal" text-anchor="start" textLength="22.6" lengthAdjust="spacingAndGlyphs">район</text>
<text x="455.4" y="896.8" font-size="9.5" fill="#d8262e" font-weight="bold" text-anchor="start" textLength="15.6" lengthAdjust="spacingAndGlyphs">+43</text>
<text x="437.9" y="911.1" font-size="15.6" fill="#30598f" font-weight="bold" text-anchor="start" textLength="40.8" lengthAdjust="spacingAndGlyphs" stroke="#30598f" stroke-width="0.3">6 142</text>
<text x="432.1" y="920.7" font-size="8.2" fill="#2e2e2e" font-weight="normal" text-anchor="start" textLength="49.0" lengthAdjust="spacingAndGlyphs">Шелеховский</text>
<text x="445.3" y="930.5" font-size="8.2" fill="#2e2e2e" font-weight="normal" text-anchor="start" textLength="22.6" lengthAdjust="spacingAndGlyphs">район</text>
<text x="467.9" y="945" font-size="9.5" fill="#d8262e" font-weight="bold" text-anchor="start" textLength="15.5" lengthAdjust="spacingAndGlyphs">+21</text>
<text x="429.7" y="958.7" font-size="15.1" fill="#30598f" font-weight="bold" text-anchor="start" textLength="41.1" lengthAdjust="spacingAndGlyphs" stroke="#30598f" stroke-width="0.3">4 806</text>
<text x="445.3" y="972.5" font-size="8.2" fill="#2e2e2e" font-weight="normal" text-anchor="start" textLength="46.7" lengthAdjust="spacingAndGlyphs">Слюдянский</text>
<text x="456.2" y="982.6" font-size="8.2" fill="#2e2e2e" font-weight="normal" text-anchor="start" textLength="21.8" lengthAdjust="spacingAndGlyphs">район</text>
<text x="537" y="881" font-size="9.5" fill="#fff" font-weight="bold" text-anchor="start" textLength="22" lengthAdjust="spacingAndGlyphs">+227</text>
<text x="492" y="898.0" font-size="14.5" fill="#fff" font-weight="bold" text-anchor="start" textLength="51" lengthAdjust="spacingAndGlyphs" stroke="#fff" stroke-width="0.3">18 329</text>
<text x="495" y="908" font-size="8.2" fill="#6a0d0d" font-weight="normal" text-anchor="start" textLength="37" lengthAdjust="spacingAndGlyphs">Иркутский</text>
<text x="503" y="916.4" font-size="8.2" fill="#6a0d0d" font-weight="normal" text-anchor="start" textLength="22" lengthAdjust="spacingAndGlyphs">район</text>
<text x="496" y="835.7" font-size="15.5" fill="#fff" font-weight="bold" text-anchor="start" textLength="33.7" lengthAdjust="spacingAndGlyphs" stroke="#fff" stroke-width="0.3">3 768</text>
<text x="484.9" y="848.9" font-size="8.2" fill="#6a0d0d" font-weight="normal" text-anchor="start" textLength="76.4" lengthAdjust="spacingAndGlyphs">Эхирит-Булагатский</text>
<text x="512.4" y="858.7" font-size="8.2" fill="#6a0d0d" font-weight="normal" text-anchor="start" textLength="19.6" lengthAdjust="spacingAndGlyphs">район</text>
<text x="438.7" y="810.7" font-size="15.6" fill="#30598f" font-weight="bold" text-anchor="start" textLength="40.0" lengthAdjust="spacingAndGlyphs" stroke="#30598f" stroke-width="0.3">2 221</text>
<text x="483.1" y="804.4" font-size="9.5" fill="#d8262e" font-weight="bold" text-anchor="start" textLength="9.8" lengthAdjust="spacingAndGlyphs">+1</text>
<text x="439.6" y="819" font-size="8.2" fill="#2e2e2e" font-weight="normal" text-anchor="start" textLength="40.0" lengthAdjust="spacingAndGlyphs">Боханский</text>
<text x="448.4" y="827.2" font-size="8.2" fill="#2e2e2e" font-weight="normal" text-anchor="start" textLength="21.4" lengthAdjust="spacingAndGlyphs">район</text>
<text x="473.4" y="752.9" font-size="9.5" fill="#d8262e" font-weight="bold" text-anchor="start" textLength="13.8" lengthAdjust="spacingAndGlyphs">+11</text>
<text x="449.8" y="770.5" font-size="14.8" fill="#30598f" font-weight="bold" text-anchor="start" textLength="41.6" lengthAdjust="spacingAndGlyphs" stroke="#30598f" stroke-width="0.3">2 914</text>
<text x="458.2" y="779.6" font-size="8.2" fill="#2e2e2e" font-weight="normal" text-anchor="start" textLength="34.7" lengthAdjust="spacingAndGlyphs">Осинский</text>
<text x="464.1" y="789.3" font-size="8.2" fill="#2e2e2e" font-weight="normal" text-anchor="start" textLength="23.1" lengthAdjust="spacingAndGlyphs">район</text>
<text x="546" y="807.0" font-size="14.5" fill="#30598f" font-weight="bold" text-anchor="start" textLength="41" lengthAdjust="spacingAndGlyphs" stroke="#30598f" stroke-width="0.3">1 262</text>
<text x="534.9" y="817.5" font-size="8.2" fill="#2e2e2e" font-weight="normal" text-anchor="start" textLength="52.3" lengthAdjust="spacingAndGlyphs">Баяндаевский</text>
<text x="549.8" y="826.2" font-size="8.2" fill="#2e2e2e" font-weight="normal" text-anchor="start" textLength="20.9" lengthAdjust="spacingAndGlyphs">район</text>
<text x="576" y="833.0" font-size="14.5" fill="#30598f" font-weight="bold" text-anchor="start" textLength="40" lengthAdjust="spacingAndGlyphs" stroke="#30598f" stroke-width="0.3">1 393</text>
<text x="570" y="844" font-size="8.2" fill="#2e2e2e" font-weight="normal" text-anchor="start" textLength="44" lengthAdjust="spacingAndGlyphs">Ольхонский</text>
<text x="580" y="854" font-size="8.2" fill="#2e2e2e" font-weight="normal" text-anchor="start" textLength="21" lengthAdjust="spacingAndGlyphs">район</text>
<polyline points="165.6,455.6 240.0,455.6" fill="none" stroke="#e590a4" stroke-width="1.1" stroke-linejoin="round" stroke-linecap="round"/>
<polyline points="240.0,455.6 437.4,505.0" fill="none" stroke="#a06a72" stroke-width="0.9" stroke-linejoin="round" stroke-linecap="round"/>
<polyline points="163.3,543.3 224.4,543.3" fill="none" stroke="#e590a4" stroke-width="1.1" stroke-linejoin="round" stroke-linecap="round"/>
<polyline points="224.4,543.3 362.2,576.2" fill="none" stroke="#a06a72" stroke-width="0.9" stroke-linejoin="round" stroke-linecap="round"/>
<polyline points="158.2,631.1 223.3,631.1 342.5,656.5" fill="none" stroke="#eca35e" stroke-width="0.9" stroke-linejoin="round" stroke-linecap="round"/>
<polyline points="158.2,700.4 382.5,698.2" fill="none" stroke="#eca35e" stroke-width="0.9" stroke-linejoin="round" stroke-linecap="round"/>
<polyline points="158.2,750.0 247.8,750.0 365.9,715.5" fill="none" stroke="#eca35e" stroke-width="0.9" stroke-linejoin="round" stroke-linecap="round"/>
<polyline points="158.2,822.2 395.0,821.5 423.3,811.7" fill="none" stroke="#eca35e" stroke-width="0.9" stroke-linejoin="round" stroke-linecap="round"/>
<polyline points="158.2,874.4 267.8,874.4 399.4,829.4" fill="none" stroke="#eca35e" stroke-width="0.9" stroke-linejoin="round" stroke-linecap="round"/>
<polyline points="158.2,936.7 271.1,936.7 427.8,839.4" fill="none" stroke="#eca35e" stroke-width="0.9" stroke-linejoin="round" stroke-linecap="round"/>
<polyline points="164.4,995.6 344.3,995.1" fill="none" stroke="#e590a4" stroke-width="1.1" stroke-linejoin="round" stroke-linecap="round"/>
<polyline points="344.3,995.1 450.0,876.7" fill="none" stroke="#a06a72" stroke-width="0.9" stroke-linejoin="round" stroke-linecap="round"/>
<polyline points="564.0,878.7 710.7,878.7" fill="none" stroke="#d9707f" stroke-width="1.0" stroke-linejoin="round" stroke-linecap="round"/>
<circle cx="139" cy="455.5" r="25" fill="#e00817" stroke="none" stroke-width="0"/>
<circle cx="135" cy="544.5" r="29" fill="#e00817" stroke="none" stroke-width="0"/>
<circle cx="140" cy="629.7" r="18.5" fill="#f2991c" stroke="none" stroke-width="0"/>
<circle cx="140" cy="700" r="18.4" fill="#f2991c" stroke="none" stroke-width="0"/>
<circle cx="140" cy="749.4" r="18.4" fill="#f2991c" stroke="none" stroke-width="0"/>
<circle cx="140" cy="820.6" r="18.4" fill="#f2991c" stroke="none" stroke-width="0"/>
<circle cx="140" cy="871.7" r="18.4" fill="#f2991c" stroke="none" stroke-width="0"/>
<circle cx="140" cy="937" r="18.5" fill="#f2991c" stroke="none" stroke-width="0"/>
<circle cx="140" cy="994" r="25.5" fill="#e00817" stroke="none" stroke-width="0"/>
<circle cx="747.6" cy="875.3" r="36.8" fill="#e00817" stroke="none" stroke-width="0"/>
<text x="116.7" y="461.6" font-size="14.5" fill="#fff" font-weight="bold" text-anchor="start" textLength="43.7" lengthAdjust="spacingAndGlyphs" stroke="#fff" stroke-width="0.3">10 410</text>
<text x="170" y="452.9" font-size="8.4" fill="#222" font-weight="normal" text-anchor="start" textLength="53.3" lengthAdjust="spacingAndGlyphs">г. Усть-Илимск</text>
<text x="109.3" y="550" font-size="15.5" fill="#fff" font-weight="bold" text-anchor="start" textLength="50.7" lengthAdjust="spacingAndGlyphs" stroke="#fff" stroke-width="0.3">18 036</text>
<text x="152.2" y="519.3" font-size="9.5" fill="#c8303a" font-weight="bold" text-anchor="start" textLength="22.2" lengthAdjust="spacingAndGlyphs">+156</text>
<text x="173.3" y="541.1" font-size="8.4" fill="#222" font-weight="normal" text-anchor="start" textLength="31.6" lengthAdjust="spacingAndGlyphs">г. Братск</text>
<text x="122.2" y="634.4" font-size="12.5" fill="#3d5878" font-weight="bold" text-anchor="start" textLength="36.0" lengthAdjust="spacingAndGlyphs" stroke="#3d5878" stroke-width="0.3">3 133</text>
<text x="149.3" y="611.6" font-size="9.5" fill="#c8303a" font-weight="bold" text-anchor="start" textLength="16.9" lengthAdjust="spacingAndGlyphs">+15</text>
<text x="169.3" y="628.9" font-size="8.4" fill="#222" font-weight="normal" text-anchor="start" textLength="28.0" lengthAdjust="spacingAndGlyphs">г. Тулун</text>
<text x="122.9" y="705.6" font-size="14.5" fill="#3d5878" font-weight="bold" text-anchor="start" textLength="35.3" lengthAdjust="spacingAndGlyphs" stroke="#3d5878" stroke-width="0.3">2206</text>
<text x="167.8" y="696.2" font-size="8.4" fill="#222" font-weight="normal" text-anchor="start" textLength="34.0" lengthAdjust="spacingAndGlyphs">г. Саянск</text>
<text x="122.9" y="754.4" font-size="14.5" fill="#3d5878" font-weight="bold" text-anchor="start" textLength="35.3" lengthAdjust="spacingAndGlyphs" stroke="#3d5878" stroke-width="0.3">2146</text>
<text x="167.8" y="745.6" font-size="8.4" fill="#222" font-weight="normal" text-anchor="start" textLength="26.0" lengthAdjust="spacingAndGlyphs">г. Зима</text>
<text x="124" y="826" font-size="13.5" fill="#3d5878" font-weight="bold" text-anchor="start" textLength="34.2" lengthAdjust="spacingAndGlyphs" stroke="#3d5878" stroke-width="0.3">1 622</text>
<text x="167.8" y="818.9" font-size="8.4" fill="#222" font-weight="normal" text-anchor="start" textLength="33.3" lengthAdjust="spacingAndGlyphs">г. Свирск</text>
<text x="124" y="876.2" font-size="12.5" fill="#3d5878" font-weight="bold" text-anchor="start" textLength="34.2" lengthAdjust="spacingAndGlyphs" stroke="#3d5878" stroke-width="0.3">5 152</text>
<text x="147.8" y="854.4" font-size="9.5" fill="#c8303a" font-weight="bold" text-anchor="start" textLength="16.6" lengthAdjust="spacingAndGlyphs">+43</text>
<text x="167.8" y="870" font-size="8.4" fill="#222" font-weight="normal" text-anchor="start" textLength="47.8" lengthAdjust="spacingAndGlyphs">г. Черемхово</text>
<text x="124" y="941.1" font-size="12.5" fill="#3d5878" font-weight="bold" text-anchor="start" textLength="34.2" lengthAdjust="spacingAndGlyphs" stroke="#3d5878" stroke-width="0.3">5 984</text>
<text x="147.8" y="915.6" font-size="9.5" fill="#c8303a" font-weight="bold" text-anchor="start" textLength="11.1" lengthAdjust="spacingAndGlyphs">+5</text>
<text x="166.7" y="932.2" font-size="8.4" fill="#222" font-weight="normal" text-anchor="start" textLength="75.1" lengthAdjust="spacingAndGlyphs">г. Усолье-Сибирское</text>
<text x="118.2" y="997.8" font-size="14" fill="#fff" font-weight="bold" text-anchor="start" textLength="42.9" lengthAdjust="spacingAndGlyphs" stroke="#fff" stroke-width="0.3">23 388</text>
<text x="154.4" y="968.9" font-size="9.5" fill="#c8303a" font-weight="bold" text-anchor="start" textLength="16.7" lengthAdjust="spacingAndGlyphs">+54</text>
<text x="172.9" y="991.1" font-size="8.4" fill="#222" font-weight="normal" text-anchor="start" textLength="35.3" lengthAdjust="spacingAndGlyphs">г. Ангарск</text>
<text x="714.7" y="881.9" font-size="15" fill="#fff" font-weight="bold" text-anchor="start" textLength="60.8" lengthAdjust="spacingAndGlyphs" stroke="#fff" stroke-width="0.3">110 052</text>
<text x="681.3" y="860.5" font-size="9.5" fill="#c8303a" font-weight="bold" text-anchor="start" textLength="23.2" lengthAdjust="spacingAndGlyphs">+464</text>
<text x="661.3" y="876" font-size="9.5" fill="#222" font-weight="normal" text-anchor="start" textLength="44.8" lengthAdjust="spacingAndGlyphs">г. Иркутск</text>
</svg>
</body></html>
